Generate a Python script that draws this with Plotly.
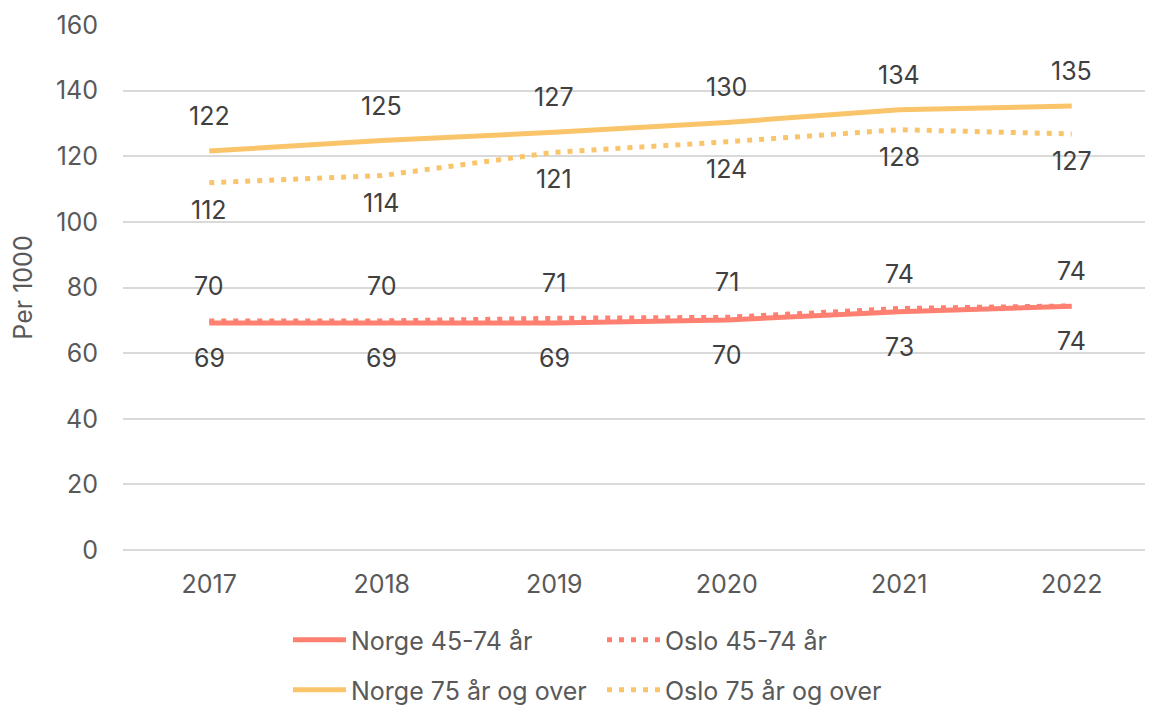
import plotly.graph_objects as go

years = ["2017", "2018", "2019", "2020", "2021", "2022"]
norge_45_74 = [69.2, 69.3, 69.2, 70.1, 72.6, 74.3]
oslo_45_74 = [69.8, 69.8, 70.6, 70.9, 73.6, 74.4]
norge_75 = [121.6, 124.8, 127.3, 130.3, 134.2, 135.3]
oslo_75 = [111.9, 114.1, 121.2, 124.4, 128.1, 126.8]

names = ["Norge 45-74 år", "Oslo 45-74 år", "Norge 75 år og over", "Oslo 75 år og over"]
series = [norge_45_74, oslo_45_74, norge_75, oslo_75]
colors = ["#FF8070", "#FF8070", "#FAC56A", "#FAC56A"]
dashes = ["solid", "5px,7px", "solid", "5px,7px"]
legends = ["legend", "legend", "legend2", "legend2"]
label_shift = [-35, 35, 35, -27]  # pixel shift of data labels (negative = below)

FONT = "Inter"
FS = 25
fig = go.Figure()
for name, vals, col, dash, lg in zip(names, series, colors, dashes, legends):
    fig.add_trace(go.Scatter(
        x=years, y=vals, name=name, mode="lines",
        line=dict(color=col, width=5, dash=dash),
        legend=lg, hoverinfo="skip",
    ))

for vals, sh in zip(series, label_shift):
    for i, v in enumerate(vals):
        fig.add_annotation(
            x=i, y=v, xref="x", yref="y", text=f"{v:.0f}", showarrow=False,
            yshift=sh, font=dict(family=FONT, size=FS, color="#404040"),
        )

legend_common = dict(
    orientation="h", xref="container", yref="container",
    x=280 / 1153, xanchor="left", yanchor="top",
    itemwidth=53, entrywidth=246, font=dict(size=FS, color="#595959"),
    bgcolor="rgba(0,0,0,0)",
)

fig.update_layout(
    width=1153, height=705,
    margin=dict(l=115, r=3, t=17, b=163),
    paper_bgcolor="white", plot_bgcolor="white",
    font=dict(family=FONT, size=FS, color="#595959"),
    xaxis=dict(
        type="category", range=[-0.5, 5.5], showgrid=False,
        showline=False, ticks="", zeroline=False, ticklabelstandoff=17,
        tickfont=dict(size=FS, color="#595959"),
    ),
    yaxis=dict(
        range=[0, 160], dtick=20, showgrid=True, gridcolor="#D9D9D9", gridwidth=1.5,
        zeroline=True, zerolinecolor="#D9D9D9", zerolinewidth=1.5,
        ticks="", ticklabelstandoff=24,
        tickfont=dict(size=FS, color="#595959"),
        title=dict(text="Per 1000", font=dict(size=FS, color="#595959"), standoff=18),
    ),
    legend=dict(y=1 - 609 / 705, **legend_common),
    legend2=dict(y=1 - 659 / 705, **legend_common),
    showlegend=True,
)

fig.write_html("out.html")
